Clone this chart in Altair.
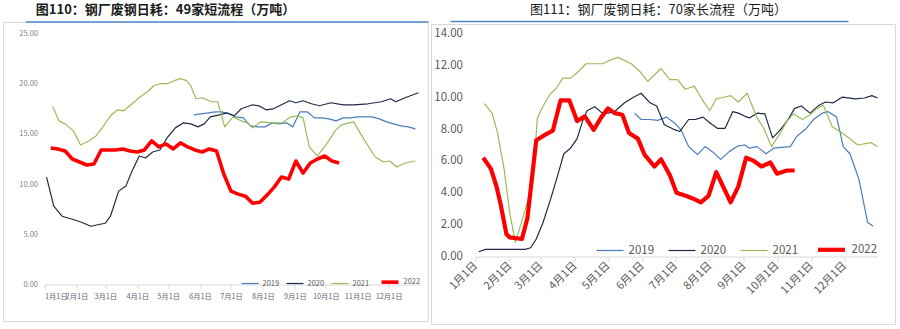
import altair as alt
import pandas as pd

FONT = "Noto Sans CJK SC"
YEARS = ["2019", "2020", "2021", "2022"]
COLORS = ["#4a7ebb", "#1f2b45", "#9bbb59", "#ff0000"]

TITLE_L = "图110：钢厂废钢日耗：49家短流程（万吨）"
TITLE_R = "图111：钢厂废钢日耗：70家长流程（万吨）"

L_Y_TICKS = [0, 5, 10, 15, 20, 25]
R_Y_TICKS = [0, 2, 4, 6, 8, 10, 12, 14]
MONTHS = list(range(1, 13))

# ---- left panel: 49 EAF mills (days since Jan 1, value in 10k t) ----
L2019_D = [145, 152, 159, 166, 172, 179, 186, 193, 200, 207, 214, 221, 228, 235, 241, 248, 255, 262, 269, 276,
           283, 290, 297, 304, 311, 318, 325, 332, 339, 346, 353, 360]
L2019_V = [16.9, 17.0, 17.1, 17.2, 17.2, 17.0, 16.7, 16.6, 15.8, 15.7, 15.7, 16.1, 16.0, 16.1, 15.7, 17.2, 17.2, 16.6, 16.6, 16.5,
           16.3, 16.6, 16.6, 16.7, 16.7, 16.7, 16.5, 16.2, 16.0, 15.8, 15.7, 15.5]

L2020_D = [2, 9, 17, 27, 36, 45, 54, 59, 64, 72, 79, 85, 92, 98, 105, 112, 119, 127, 135, 142,
           149, 155, 161, 170, 177, 184, 191, 202, 208, 215, 222, 230, 238, 244, 251, 259, 267, 278, 290, 300,
           314, 327, 336, 341, 350, 363]
L2020_V = [10.7, 7.8, 6.8, 6.5, 6.2, 5.8, 6.0, 6.1, 6.8, 9.3, 9.8, 11.3, 12.8, 12.6, 13.2, 13.4, 14.6, 15.6, 16.1, 16.0,
           15.7, 16.0, 16.7, 16.9, 17.1, 16.8, 17.5, 17.9, 17.8, 17.4, 17.5, 17.9, 18.3, 18.1, 18.3, 18.0, 17.8, 18.1, 17.9, 17.9,
           18.0, 18.2, 18.5, 18.2, 18.6, 19.1]

L2021_D = [8, 14, 20, 28, 35, 43, 50, 58, 64, 71, 77, 85, 93, 100, 106, 112, 119, 126, 132, 138,
           142, 147, 153, 162, 168, 175, 183, 191, 197, 202, 210, 222, 231, 239, 246, 251, 257, 265, 274, 282,
           288, 300, 311, 321, 329, 335, 342, 350, 360]
L2021_V = [17.7, 16.3, 16.0, 15.3, 13.9, 14.3, 14.8, 15.9, 16.8, 17.4, 17.3, 18.0, 18.7, 19.2, 19.8, 20.0, 20.0, 20.3, 20.5, 20.3,
           19.8, 18.5, 18.6, 18.2, 18.2, 15.7, 16.7, 16.3, 16.1, 15.6, 16.2, 16.1, 16.1, 16.7, 16.8, 16.6, 13.7, 12.8, 14.0, 15.3,
           15.9, 16.2, 14.3, 12.7, 12.2, 12.3, 11.7, 12.1, 12.3]

L2022_D = [6, 13, 20, 27, 34, 41, 48, 55, 62, 69, 76, 83, 90, 97, 104, 111, 118, 125, 132, 139,
           146, 153, 160, 167, 174, 181, 188, 195, 202, 209, 216, 223, 230, 237, 244, 251, 258, 265, 272, 279, 286]
L2022_V = [13.6, 13.5, 13.3, 12.5, 12.2, 11.9, 12.0, 13.4, 13.4, 13.4, 13.5, 13.3, 13.2, 13.4, 14.3, 13.7, 14.0, 13.5, 14.1, 13.7,
           13.4, 13.2, 13.5, 13.3, 11.0, 9.3, 9.0, 8.8, 8.1, 8.2, 8.9, 9.7, 10.7, 10.5, 12.3, 11.1, 12.1, 12.5, 12.8, 12.3, 12.1]

# ---- right panel: 70 BF mills ----
R2019_D = [144, 150, 158, 165, 173, 180, 186, 193, 201, 208, 215, 222, 230, 238, 244, 248, 255, 263, 270, 277,
           285, 291, 299, 306, 314, 319, 327, 333, 339, 347, 355, 360]
R2019_V = [9.0, 8.6, 8.6, 8.55, 8.75, 8.4, 7.95, 6.9, 6.4, 6.9, 6.55, 6.1, 6.6, 6.95, 7.0, 6.8, 6.9, 6.45, 6.8, 6.85,
           6.9, 7.55, 8.0, 8.6, 9.0, 9.1, 8.75, 6.9, 6.45, 4.9, 2.15, 1.9]

R2020_D = [3, 9, 16, 23, 30, 37, 45, 50, 55, 61, 68, 74, 80, 86, 92, 97, 101, 108, 114, 120,
           126, 135, 143, 150, 158, 164, 171, 179, 185, 193, 199, 206, 212, 219, 226, 233, 238, 244, 248, 255,
           262, 269, 276, 283, 289, 295, 303, 311, 317, 324, 332, 344, 352, 359, 364]
R2020_V = [0.3, 0.45, 0.45, 0.45, 0.45, 0.45, 0.45, 0.55, 1.1, 2.1, 3.6, 5.0, 6.45, 6.8, 7.4, 8.5, 9.15, 9.4, 9.05, 9.0,
           9.1, 9.65, 10.0, 10.25, 9.65, 9.45, 8.27, 8.0, 7.85, 8.6, 8.6, 8.75, 8.4, 8.05, 8.05, 9.1, 9.0, 8.8, 8.7, 9.0,
           8.95, 7.45, 7.95, 8.6, 9.3, 9.45, 9.0, 9.5, 9.7, 9.65, 10.0, 9.9, 9.95, 10.1, 9.95]

R2021_D = [8, 15, 20, 26, 31, 36, 41, 47, 52, 56, 61, 67, 73, 79, 86, 93, 100, 108, 115, 121,
           129, 141, 149, 156, 168, 176, 183, 190, 198, 205, 212, 218, 225, 231, 238, 246, 255, 261, 268, 276,
           282, 288, 296, 303, 309, 315, 323, 330, 338, 346, 358, 364]
R2021_V = [9.6, 9.0, 7.75, 5.45, 2.75, 0.9, 2.0, 3.4, 4.8, 8.7, 9.4, 10.15, 10.55, 11.2, 11.2, 11.6, 12.1, 12.1, 12.1, 12.3,
           12.5, 12.1, 11.6, 11.0, 11.8, 11.1, 11.1, 10.5, 10.7, 9.9, 9.15, 9.9, 10.0, 10.1, 9.7, 10.25, 8.7, 8.05, 6.9, 7.75,
           8.5, 8.95, 8.6, 8.9, 9.3, 9.5, 8.15, 7.85, 7.45, 7.0, 7.15, 6.9]

R2022_D = [7, 14, 19, 23, 28, 31, 42, 47, 55, 62, 70, 77, 85, 92, 99, 107, 114, 120, 126, 133,
           139, 147, 153, 162, 168, 176, 182, 191, 198, 204, 211, 218, 231, 238, 245, 252, 259, 267, 273, 282, 289]
R2022_V = [6.2, 5.5, 4.4, 3.2, 1.4, 1.2, 1.1, 2.4, 7.3, 7.6, 7.9, 9.8, 9.8, 8.5, 8.8, 7.95, 8.75, 9.3, 9.0, 8.9,
           7.75, 7.4, 6.4, 5.65, 6.1, 5.1, 4.0, 3.8, 3.6, 3.4, 3.8, 5.3, 3.4, 4.4, 6.2, 6.0, 5.65, 5.9, 5.2, 5.4, 5.4]


def to_df(series):
    base = pd.Timestamp("2022-01-01")
    parts = []
    for year, days, vals in series:
        parts.append(pd.DataFrame({
            "date": base + pd.to_timedelta(days, unit="D"),
            "value": vals,
            "year": year,
        }))
    return pd.concat(parts, ignore_index=True)


df_left = to_df([("2019", L2019_D, L2019_V), ("2020", L2020_D, L2020_V),
                 ("2021", L2021_D, L2021_V), ("2022", L2022_D, L2022_V)])
df_right = to_df([("2019", R2019_D, R2019_V), ("2020", R2020_D, R2020_V),
                  ("2021", R2021_D, R2021_V), ("2022", R2022_D, R2022_V)])

X_DOMAIN = [alt.DateTime(year=2022, month=1, date=1), alt.DateTime(year=2022, month=12, date=31)]
X_TICKS = [alt.DateTime(year=2022, month=m, date=1) for m in MONTHS]

ONE = pd.DataFrame({"k": [0]})


def hrule(x1, x2, y, color, w=1.0):
    return alt.Chart(ONE).mark_rule(color=color, strokeWidth=w).encode(
        x=alt.value(x1), x2=alt.value(x2), y=alt.value(y))


def vrule(x, y1, y2, color, w=1.0):
    return alt.Chart(ONE).mark_rule(color=color, strokeWidth=w).encode(
        x=alt.value(x), y=alt.value(y1), y2=alt.value(y2))


def title_text(text, x, y, weight):
    return alt.Chart(pd.DataFrame({"t": [text]})).mark_text(
        font=FONT, fontSize=13, fontWeight=weight, color="#1a1a1a",
        align="center", baseline="middle").encode(
        x=alt.value(x), y=alt.value(y), text="t:N")


FRAME = "#d9d9d9"
BLUE = "#4f87cc"

# ---------------- left panel ----------------
WL, HL = 375, 251
leg_l = alt.Legend(title=None, orient="none", legendX=196, legendY=238, direction="horizontal",
                   symbolType="stroke", symbolSize=289, labelFont=FONT, labelFontSize=7.5,
                   labelColor="#595959", labelOffset=3, columnPadding=4, padding=0)
lines_l = alt.Chart(df_left).mark_line(strokeJoin="round").encode(
    x=alt.X("date:T", scale=alt.Scale(domain=X_DOMAIN),
            axis=alt.Axis(values=X_TICKS, format="%-m月%-d日", labelAngle=0, grid=False,
                          labelFont=FONT, labelFontSize=7.3, labelColor="#5b6678",
                          domainColor=FRAME, tickColor=FRAME, tickSize=4, labelPadding=4,
                          labelOverlap=False),
            title=None),
    y=alt.Y("value:Q", scale=alt.Scale(domain=[0, 25]),
            axis=alt.Axis(values=L_Y_TICKS, format=".2f", grid=False, domain=False, ticks=False,
                          labelFont=FONT, labelFontSize=7.5, labelColor="#7f7f7f", labelPadding=7),
            title=None),
    color=alt.Color("year:N", scale=alt.Scale(domain=YEARS, range=COLORS), legend=leg_l),
    strokeWidth=alt.StrokeWidth("year:N",
                                scale=alt.Scale(type="ordinal", domain=YEARS, range=[1.2, 1.2, 1.2, 3.6]),
                                legend=leg_l),
)

left = alt.layer(
    lines_l,
    vrule(-41, -11, 288, FRAME), vrule(384, -11, 288, FRAME), hrule(-41, 384, 288, FRAME),
    hrule(-41, 384, -11, FRAME), hrule(-19, 384, -11.5, BLUE, 1.5),
    title_text(TITLE_L, 121, -24, "bold"),
).properties(width=WL, height=HL)

# ---------------- right panel ----------------
WR, HR = 402, 223
leg_r = alt.Legend(title=None, orient="none", legendX=120, legendY=200, direction="horizontal",
                   symbolType="stroke", symbolSize=729, labelFont=FONT, labelFontSize=11.5,
                   labelColor="#595959", labelOffset=4, columnPadding=11, padding=0)
lines_r = alt.Chart(df_right).mark_line(strokeJoin="round").encode(
    x=alt.X("date:T", scale=alt.Scale(domain=X_DOMAIN),
            axis=alt.Axis(values=X_TICKS, format="%-m月%-d日", labelAngle=315, labelAlign="right",
                          labelBaseline="middle", grid=False, labelFont=FONT, labelFontSize=11,
                          labelColor="#595959", domainColor=FRAME, tickColor=FRAME, tickSize=5,
                          labelPadding=2, labelOverlap=False),
            title=None),
    y=alt.Y("value:Q", scale=alt.Scale(domain=[0, 14]),
            axis=alt.Axis(values=R_Y_TICKS, format=".2f", grid=False, domain=False, ticks=False,
                          labelFont=FONT, labelFontSize=11.5, labelColor="#595959", labelPadding=13),
            title=None),
    color=alt.Color("year:N", scale=alt.Scale(domain=YEARS, range=COLORS), legend=leg_r),
    strokeWidth=alt.StrokeWidth("year:N",
                                scale=alt.Scale(type="ordinal", domain=YEARS, range=[1.2, 1.2, 1.2, 4.2]),
                                legend=leg_r),
)

right = alt.layer(
    lines_r,
    vrule(-44, -9, 291, FRAME), vrule(420, -9, 291, FRAME), hrule(-44, 420, 291, FRAME),
    hrule(-44, 420, -9, FRAME), hrule(-25, 373, -12, BLUE, 1.5),
    title_text(TITLE_R, 183, -24, "normal"),
).properties(width=WR, height=HR)

chart = alt.hconcat(left, right, spacing=56, bounds="flush").properties(
    padding={"left": 2.5, "top": 3.5, "right": 0, "bottom": 0}
).resolve_scale(color="independent", strokeWidth="independent").configure(
    font=FONT
).configure_view(strokeWidth=0)

chart.save("out.html", embed_options={"renderer": "svg", "actions": False})
